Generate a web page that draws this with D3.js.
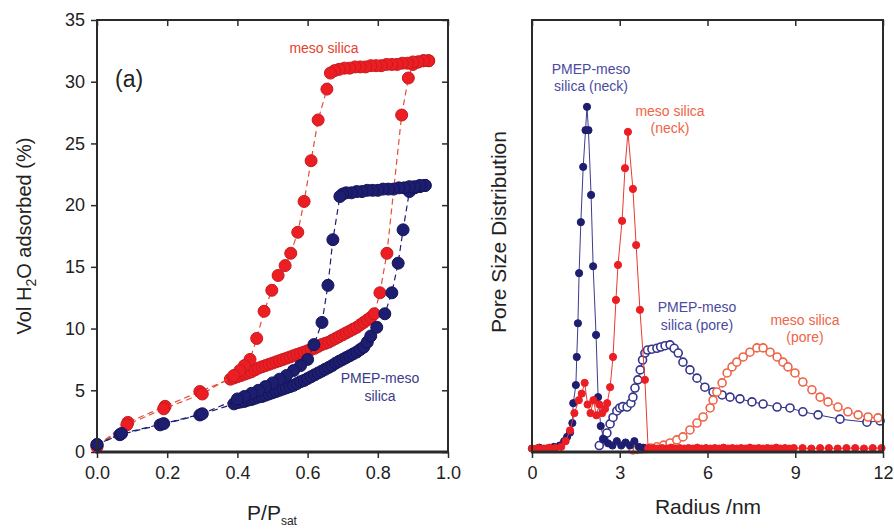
<!DOCTYPE html>
<html>
<head>
<meta charset="utf-8">
<script src="https://cdn.jsdelivr.net/npm/d3@7"></script>
<style>
  body { margin: 0; background: #fff; }
  text { font-family: Arial, "Liberation Sans", sans-serif; fill: #222; }
</style>
</head>
<body>
<svg id="chart" width="894" height="532"></svg>
<script>
// ---- Panel (a): water adsorption isotherms, [P/Psat, Vol %] ----
const mesoAdsorption = [[0.0,0.5],[0.088,2.4],[0.194,3.7],[0.293,4.9],
  [0.38,5.9],[0.39,6.0],[0.40,6.1],[0.41,6.2],[0.42,6.3],[0.43,6.4],[0.44,6.5],[0.45,6.65],[0.46,6.8],[0.47,6.9],
  [0.48,7.0],[0.49,7.1],[0.50,7.2],[0.51,7.3],[0.52,7.4],[0.53,7.5],[0.54,7.6],[0.55,7.7],[0.56,7.8],[0.57,7.9],
  [0.58,8.0],[0.59,8.1],[0.60,8.2],[0.61,8.3],[0.62,8.4],[0.63,8.55],[0.64,8.7],[0.65,8.8],[0.66,8.9],[0.67,9.05],
  [0.68,9.2],[0.69,9.35],[0.70,9.5],[0.71,9.65],[0.72,9.8],[0.73,9.95],[0.74,10.1],[0.75,10.3],[0.76,10.5],
  [0.77,10.7],[0.78,10.9],[0.79,11.2],[0.806,12.9],[0.826,16.1],[0.868,27.3],[0.887,30.3],[0.90,31.4],
  [0.915,31.6],[0.93,31.7],[0.945,31.7]];
const mesoDesorption = [[0.945,31.7],[0.93,31.7],[0.915,31.6],[0.90,31.6],[0.885,31.5],[0.87,31.5],[0.855,31.4],
  [0.84,31.4],[0.825,31.4],[0.81,31.3],[0.795,31.3],[0.78,31.3],[0.765,31.2],[0.75,31.2],[0.735,31.2],[0.72,31.1],
  [0.705,31.1],[0.69,31.0],[0.677,30.9],[0.665,30.7],[0.655,29.4],[0.630,26.9],[0.610,23.6],[0.590,20.3],
  [0.572,17.8],[0.552,16.1],[0.536,15.1],[0.516,14.3],[0.498,13.1],[0.476,11.4],[0.455,9.2],[0.436,7.5],
  [0.42,7.0],[0.407,6.6],[0.39,6.2],[0.30,4.7],[0.19,3.5],[0.085,2.2],[0.0,0.4]];
const pmepAdsorption = [[0.0,0.6],[0.065,1.4],[0.18,2.2],[0.293,3.0],[0.39,3.9],[0.40,4.0],[0.41,4.05],[0.42,4.1],
  [0.43,4.2],[0.44,4.25],[0.45,4.35],[0.46,4.45],[0.47,4.5],[0.48,4.6],[0.49,4.7],[0.50,4.8],[0.51,4.9],[0.52,5.0],
  [0.53,5.1],[0.54,5.2],[0.55,5.3],[0.56,5.4],[0.57,5.55],[0.58,5.7],[0.59,5.8],[0.60,5.95],[0.61,6.1],[0.62,6.25],
  [0.63,6.4],[0.64,6.55],[0.65,6.7],[0.66,6.85],[0.67,7.0],[0.68,7.2],[0.69,7.35],[0.70,7.5],[0.71,7.65],[0.72,7.8],
  [0.73,7.95],[0.74,8.1],[0.75,8.3],[0.76,8.5],[0.77,8.9],[0.78,9.4],[0.797,10.1],[0.82,11.2],[0.84,12.9],
  [0.858,15.3],[0.872,18.0],[0.89,21.1],[0.905,21.4],[0.92,21.5],[0.935,21.6]];
const pmepDesorption = [[0.935,21.6],[0.92,21.6],[0.905,21.5],[0.89,21.5],[0.875,21.4],[0.86,21.4],[0.845,21.3],
  [0.83,21.3],[0.815,21.3],[0.80,21.2],[0.785,21.2],[0.77,21.2],[0.755,21.1],[0.74,21.1],[0.725,21.0],[0.71,21.0],
  [0.70,20.9],[0.692,20.7],[0.672,17.2],[0.658,13.5],[0.641,10.5],[0.618,8.7],[0.60,7.5],[0.58,7.0],[0.56,6.6],
  [0.54,6.2],[0.52,5.9],[0.50,5.6],[0.48,5.3],[0.46,5.0],[0.44,4.75],[0.42,4.5],[0.40,4.3],[0.30,3.1],[0.19,2.3],
  [0.07,1.5],[0.0,0.6]];
const isoXTicks = [0, 0.2, 0.4, 0.6, 0.8, 1.0];
const isoYTicks = [0, 5, 10, 15, 20, 25, 30, 35];

// ---- Panel (b): pore size distributions, [radius nm, arbitrary units] ----
const pmepNeck = [[0.0,0.8],[0.25,1.0],[0.5,0.8],[0.75,1.2],[0.95,1.5],[1.1,2.5],[1.2,3.5],[1.3,4.5],[1.38,6.7],
  [1.41,11.3],[1.5,15.5],[1.53,22],[1.57,29.8],[1.61,41.4],[1.67,53.2],[1.75,66],[1.83,74.5],[1.88,79.9],
  [1.93,74.5],[2.02,59.5],[2.09,43],[2.19,27.1],[2.26,12.7],[2.35,6],[2.45,3],[2.6,2],[2.75,1.5],[2.9,2.5],
  [3.05,1.5],[3.2,2.2],[3.35,1.5],[3.5,2.5],[3.65,1.2],[3.8,1],[4.0,0.8]];
const mesoNeck = [[0.0,0.8],[0.2,0.9],[0.4,0.8],[0.6,1.0],[0.8,0.9],[1.0,1.2],[1.15,2.5],[1.3,5],[1.45,9],
  [1.6,12],[1.7,13.5],[1.8,16],[1.9,11],[2.0,9],[2.1,12],[2.2,8.5],[2.3,11],[2.4,9],[2.5,10],[2.57,11.3],
  [2.67,15],[2.77,22],[2.87,35.2],[2.94,43.3],[3.08,53.5],[3.18,65.7],[3.28,74.1],[3.45,60.9],[3.56,47.9],
  [3.69,32.9],[3.86,16.7],[3.97,0.8],[4.15,0.9],[4.3,0.8],[4.45,0.9],[4.6,0.8],[4.75,1.0],[4.9,0.8],[5.05,0.9],
  [5.2,0.8],[5.35,0.9],[5.5,0.8],[5.65,1.0],[5.8,0.8],[5.95,0.9],[6.1,0.8],[6.25,0.9],[6.4,0.8],[6.55,1.0],
  [6.7,0.8],[6.85,0.9],[7.0,0.8],[7.15,0.9],[7.3,0.8],[7.45,1.0],[7.6,0.8],[7.75,0.9],[7.9,0.8],[8.05,0.9],
  [8.2,0.8],[8.35,1.0],[8.5,0.8],[8.65,0.9],[8.8,0.8],[8.95,0.9],[9.25,0.9],[9.55,0.8],[9.85,0.9],[10.15,0.9],
  [10.45,0.8],[10.75,0.9],[11.05,0.9],[11.35,0.8],[11.65,0.9],[11.95,0.9]];
const pmepPore = [[2.3,1.5],[2.45,3],[2.56,4.4],[2.67,6.5],[2.77,8],[2.9,9.5],[3.0,10.2],[3.1,10.5],[3.25,10.4],
  [3.38,11.3],[3.45,12.7],[3.52,14.8],[3.62,16.7],[3.7,19],[3.78,21.3],[3.86,22.9],[3.95,23.6],[4.1,23.8],
  [4.27,24],[4.4,24.3],[4.55,24.6],[4.72,24.8],[4.86,24],[5.0,22.9],[5.16,20.8],[5.4,19],[5.64,17.1],[5.91,15],
  [6.19,13.9],[6.5,13.2],[6.77,12.7],[7.11,12.3],[7.52,11.6],[7.9,11.1],[8.38,10.4],[8.82,10.2],[9.26,9.3],
  [9.78,8.6],[10.53,7.6],[11.45,6.9],[11.9,7.2]];
const mesoPore = [[3.45,0.5],[3.6,0.6],[3.75,0.7],[3.9,0.8],[4.05,0.9],[4.27,1.2],[4.5,1.6],[4.72,2.1],[4.95,2.8],
  [5.16,3.5],[5.4,5.1],[5.64,6.7],[5.85,8.1],[6.09,10.2],[6.19,12],[6.32,13.9],[6.5,16],[6.67,18.3],[6.84,19.7],
  [7.0,20.8],[7.22,22],[7.45,23.1],[7.69,24.1],[7.9,24.1],[8.14,23.1],[8.38,22],[8.58,20.8],[8.75,19.7],
  [8.99,18.3],[9.26,16.2],[9.57,14.4],[9.85,12.7],[10.12,11.6],[10.46,10.4],[10.8,9.3],[11.15,8.6],
  [11.49,8.1],[11.83,7.9]];
const psdXTicks = [0, 3, 6, 9, 12];

// Colours
const RED = "#ec1e24", NAVY = "#1e1e70", ORANGE = "#ef6447", BLUEOPEN = "#34348e", AXIS = "#2a2a2a";

const svg = d3.select("#chart");

/** DrawFrame: box, ticks and tick labels of a panel. */
function DrawFrame(X, Y, XTicks, YTicks, Format) {
    var [X0, X1] = X.range(), [Y0, Y1] = Y.range();
    var G = svg.append("g");
    // Bottom: outward ticks with labels
    var Bottom = G.append("g").attr("transform", `translate(0,${Y0})`)
        .call(d3.axisBottom(X).tickValues(XTicks).tickSize(6).tickSizeOuter(0).tickPadding(8).tickFormat(Format));
    Bottom.selectAll("text").attr("font-size", 18).attr("fill", "#222");
    // Top: inward ticks
    G.append("g").attr("transform", `translate(0,${Y1})`)
        .call(d3.axisTop(X).tickValues(XTicks).tickSize(-6).tickSizeOuter(0).tickFormat(""));
    if (YTicks) {
        var Left = G.append("g").attr("transform", `translate(${X0},0)`)
            .call(d3.axisLeft(Y).tickValues(YTicks).tickSize(6).tickSizeOuter(0).tickPadding(6));
        Left.selectAll("text").attr("font-size", 18).attr("fill", "#222");
        G.append("g").attr("transform", `translate(${X1},0)`)
            .call(d3.axisRight(Y).tickValues(YTicks).tickSize(-6).tickSizeOuter(0).tickFormat(""));
    }
    G.selectAll(".domain").remove();
    G.selectAll(".tick line").attr("stroke", AXIS).attr("stroke-width", 1.5);
    G.append("rect").attr("x", X0).attr("y", Y1).attr("width", X1 - X0).attr("height", Y0 - Y1)
        .attr("fill", "none").attr("stroke", AXIS).attr("stroke-width", 2);
    G.append("line").attr("x1", X0 - 1).attr("x2", X1 + 1).attr("y1", Y0).attr("y2", Y0)
        .attr("stroke", AXIS).attr("stroke-width", 3);
}

/** DrawSeries: line plus markers. */
function DrawSeries(Data, X, Y, Options) {
    var Line = d3.line().x(D => X(D[0])).y(D => Y(D[1]));
    svg.append("path").datum(Data).attr("d", Line).attr("fill", "none")
        .attr("stroke", Options.Line).attr("stroke-width", Options.LineWidth || 1.2)
        .attr("stroke-dasharray", Options.Dash || null);
    svg.append("g").selectAll("circle").data(Data).join("circle")
        .attr("cx", D => X(D[0])).attr("cy", D => Y(D[1])).attr("r", Options.Radius)
        .attr("fill", Options.Fill).attr("stroke", Options.Stroke).attr("stroke-width", Options.StrokeWidth || 1);
}

// ---- Panel (a) ----
var XIso = d3.scaleLinear().domain([0, 1]).range([97, 448]);
var YIso = d3.scaleLinear().domain([0, 35]).range([452, 20]);
DrawSeries(mesoAdsorption, XIso, YIso, { Line: "#e0503a", Dash: "6,4", Radius: 6, Fill: RED, Stroke: "#c81a1e" });
DrawSeries(mesoDesorption, XIso, YIso, { Line: "#e0503a", Dash: "6,4", Radius: 6, Fill: RED, Stroke: "#c81a1e" });
DrawSeries(pmepAdsorption, XIso, YIso, { Line: NAVY, Dash: "6,4", Radius: 6, Fill: NAVY, Stroke: "#14145a" });
DrawSeries(pmepDesorption, XIso, YIso, { Line: NAVY, Dash: "6,4", Radius: 6, Fill: NAVY, Stroke: "#14145a" });
DrawFrame(XIso, YIso, isoXTicks, isoYTicks, d3.format(".1f"));

svg.append("text").attr("x", 115).attr("y", 87).attr("font-size", 23).text("(a)");
svg.append("text").attr("x", 324).attr("y", 53).attr("text-anchor", "middle").attr("font-size", 14)
    .style("fill", "#e8402c").text("meso silica");
svg.append("text").attr("x", 380).attr("y", 383).attr("text-anchor", "middle").attr("font-size", 14)
    .style("fill", "#3a3a8a").text("PMEP-meso");
svg.append("text").attr("x", 380).attr("y", 401).attr("text-anchor", "middle").attr("font-size", 14)
    .style("fill", "#3a3a8a").text("silica");
var YTitle = svg.append("text").attr("transform", "translate(31,236) rotate(-90)")
    .attr("text-anchor", "middle").attr("font-size", 20);
YTitle.append("tspan").text("Vol H");
YTitle.append("tspan").attr("font-size", 14).attr("dy", 5).text("2");
YTitle.append("tspan").attr("dy", -5).text("O adsorbed (%)");
var XTitle = svg.append("text").attr("x", 272).attr("y", 520).attr("text-anchor", "middle").attr("font-size", 21);
XTitle.append("tspan").text("P/P");
XTitle.append("tspan").attr("font-size", 12).attr("dy", 5).text("sat");

// ---- Panel (b) ----
var XPsd = d3.scaleLinear().domain([0, 12]).range([532, 883]);
var YPsd = d3.scaleLinear().domain([0, 100]).range([452, 20]);
DrawSeries(pmepPore, XPsd, YPsd, { Line: BLUEOPEN, LineWidth: 1, Radius: 4, Fill: "#fff", Stroke: BLUEOPEN, StrokeWidth: 1.6 });
DrawSeries(mesoPore, XPsd, YPsd, { Line: ORANGE, LineWidth: 1, Radius: 4, Fill: "#fff", Stroke: ORANGE, StrokeWidth: 1.6 });
DrawSeries(pmepNeck, XPsd, YPsd, { Line: "#3c3c8c", LineWidth: 1, Radius: 3.6, Fill: NAVY, Stroke: NAVY });
DrawSeries(mesoNeck, XPsd, YPsd, { Line: "#e83a30", LineWidth: 1, Radius: 3.6, Fill: RED, Stroke: RED });
DrawFrame(XPsd, YPsd, psdXTicks, null, d3.format("d"));

var Notes = [
    ["PMEP-meso", 591, 74, "#4a4aa0"], ["silica (neck)", 591, 91, "#4a4aa0"],
    ["meso silica", 670, 116, ORANGE], ["(neck)", 670, 133, ORANGE],
    ["PMEP-meso", 697, 312, "#4a4aa0"], ["silica (pore)", 697, 330, "#4a4aa0"],
    ["meso silica", 805, 325, ORANGE], ["(pore)", 805, 342, ORANGE]
];
Notes.forEach(([Label, X, Y, Color]) => {
    svg.append("text").attr("x", X).attr("y", Y).attr("text-anchor", "middle")
        .attr("font-size", 14).style("fill", Color).text(Label);
});
svg.append("text").attr("transform", "translate(506,232) rotate(-90)").attr("text-anchor", "middle")
    .attr("font-size", 21).text("Pore Size Distribution");
svg.append("text").attr("x", 708).attr("y", 514).attr("text-anchor", "middle").attr("font-size", 21).text("Radius /nm");
</script>
</body>
</html>
